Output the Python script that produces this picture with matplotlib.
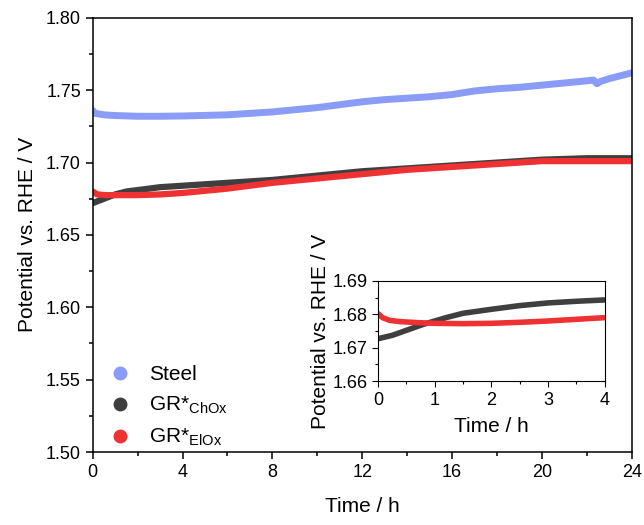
import matplotlib
matplotlib.use("Agg")
import matplotlib.pyplot as plt
from matplotlib.ticker import MultipleLocator
from matplotlib.lines import Line2D

plt.rcParams["font.family"] = ["Liberation Sans", "DejaVu Sans"]

# ---- main panel data ----
t_steel = [0, 0.1, 0.5, 1, 2, 3, 4, 6, 8, 10, 11, 12, 13, 14, 15, 16, 17, 18, 19, 20, 21, 22, 22.3, 22.45, 22.6, 23, 24]
v_steel = [1.736, 1.734, 1.733, 1.7325, 1.732, 1.732, 1.7322, 1.733, 1.735, 1.738, 1.740, 1.742, 1.7435, 1.7445, 1.7455, 1.747, 1.7495, 1.751, 1.752, 1.7535, 1.755, 1.7565, 1.757, 1.7545, 1.756, 1.758, 1.762]

t_chox = [0, 0.5, 1, 1.5, 2, 3, 4, 6, 8, 10, 12, 14, 16, 18, 20, 22, 24]
v_chox = [1.672, 1.675, 1.678, 1.680, 1.681, 1.683, 1.684, 1.686, 1.688, 1.691, 1.694, 1.696, 1.698, 1.700, 1.702, 1.703, 1.703]

t_elox = [0, 0.2, 0.6, 1, 2, 3, 4, 6, 8, 10, 12, 14, 16, 18, 20, 22, 24]
v_elox = [1.680, 1.678, 1.6775, 1.6775, 1.6775, 1.678, 1.679, 1.682, 1.686, 1.689, 1.692, 1.695, 1.697, 1.699, 1.701, 1.701, 1.701]

# ---- inset data (first 4 h) ----
ti_chox = [0, 0.25, 0.5, 0.8, 1.0, 1.2, 1.5, 2.0, 2.5, 3.0, 3.5, 4.0]
vi_chox = [1.6727, 1.6737, 1.6752, 1.677, 1.678, 1.679, 1.6803, 1.6815, 1.6826, 1.6834, 1.6839, 1.6843]

ti_elox = [0, 0.08, 0.2, 0.4, 0.7, 1.0, 1.5, 2.0, 2.5, 3.0, 3.5, 4.0]
vi_elox = [1.6802, 1.679, 1.6782, 1.6778, 1.6775, 1.6773, 1.6772, 1.6773, 1.6776, 1.678, 1.6785, 1.679]

labels = ["Steel", r"GR*$_{\mathregular{ChOx}}$", r"GR*$_{\mathregular{ElOx}}$"]
c_steel = "#8a9cf6"
c_chox = "#3f3f3f"
c_elox = "#ee3234"

fig = plt.figure(figsize=(6.44, 5.25), dpi=100)
ax = fig.add_axes([0.144, 0.139, 0.837, 0.827])

ax.plot(t_steel, v_steel, color=c_steel, lw=5, solid_capstyle="round")
ax.plot(t_chox, v_chox, color=c_chox, lw=4.5, solid_capstyle="round")
ax.plot(t_elox, v_elox, color=c_elox, lw=4.5, solid_capstyle="round")

ax.set_xlim(0, 24)
ax.set_ylim(1.50, 1.80)
ax.xaxis.set_major_locator(MultipleLocator(4))
ax.xaxis.set_minor_locator(MultipleLocator(2))
ax.yaxis.set_major_locator(MultipleLocator(0.05))
ax.yaxis.set_minor_locator(MultipleLocator(0.025))
ax.yaxis.set_major_formatter(plt.FormatStrFormatter("%.2f"))
ax.tick_params(which="both", direction="out", labelsize=13, width=1.1)
ax.tick_params(which="major", length=5)
ax.tick_params(which="minor", length=3)
for s in ax.spines.values():
    s.set_linewidth(1.1)
ax.set_xlabel("Time / h", fontsize=15, labelpad=12)
ax.set_ylabel("Potential vs. RHE / V", fontsize=15, labelpad=6)

handles = [Line2D([], [], ls="none", marker="o", ms=9, color=c) for c in (c_steel, c_chox, c_elox)]
ax.legend(handles, labels, loc="lower left", frameon=False, fontsize=15,
          handlelength=1.0, handletextpad=0.9, labelspacing=0.5,
          bbox_to_anchor=(-0.003, -0.035))

# ---- inset ----
ins = fig.add_axes([0.587, 0.274, 0.352, 0.191])
ins.plot(ti_chox, vi_chox, color=c_chox, lw=4, solid_capstyle="round")
ins.plot(ti_elox, vi_elox, color=c_elox, lw=4, solid_capstyle="round")
ins.set_xlim(0, 4)
ins.set_ylim(1.66, 1.69)
ins.xaxis.set_major_locator(MultipleLocator(1))
ins.xaxis.set_minor_locator(MultipleLocator(0.5))
ins.yaxis.set_major_locator(MultipleLocator(0.01))
ins.yaxis.set_minor_locator(MultipleLocator(0.005))
ins.yaxis.set_major_formatter(plt.FormatStrFormatter("%.2f"))
ins.tick_params(which="both", direction="out", labelsize=13, width=0.8)
ins.tick_params(which="major", length=4)
ins.tick_params(which="minor", length=2.5)
for s in ins.spines.values():
    s.set_linewidth(0.8)
ins.set_xlabel("Time / h", fontsize=15, labelpad=6)
ins.set_ylabel("Potential vs. RHE / V", fontsize=15, labelpad=2)

fig.savefig("out.png", dpi=100)
